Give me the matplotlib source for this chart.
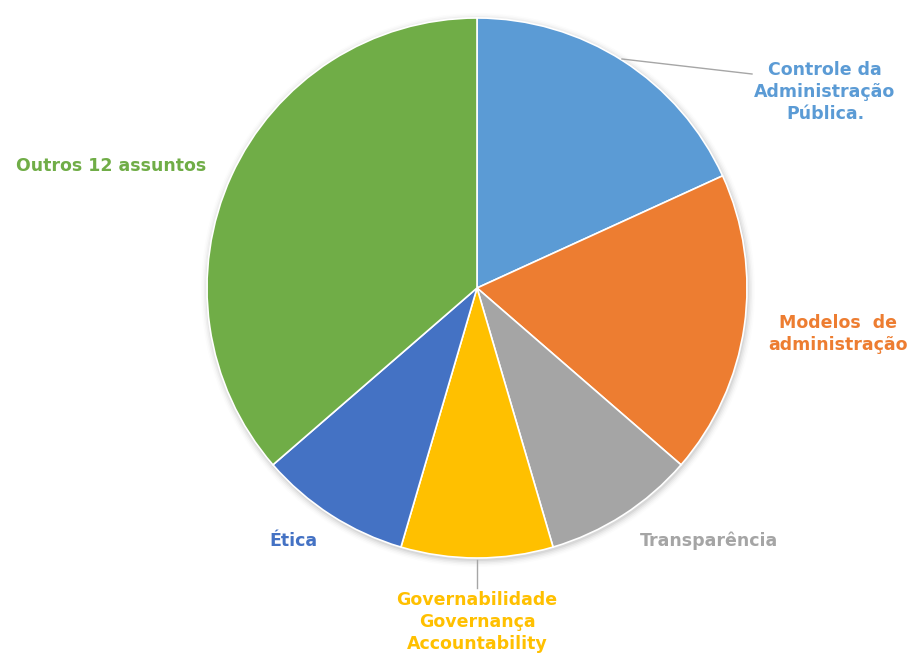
import matplotlib
matplotlib.use("Agg")
import matplotlib.pyplot as plt
from matplotlib.patches import Circle

# Topic counts
categories = [
    "Controle da\nAdministração\nPública.",
    "Modelos  de\nadministração",
    "Transparência",
    "Governabilidade\nGovernança\nAccountability",
    "Ética",
    "Outros 12 assuntos",
]
values = [2, 2, 1, 1, 1, 4]
colors = ["#5B9BD5", "#ED7D31", "#A5A5A5", "#FFC000", "#4472C4", "#70AD47"]

W, H = 912, 655
fig = plt.figure(figsize=(W / 100, H / 100), dpi=100)
ax = fig.add_axes([0, 0, 1, 1])

cx, cy, r = 477, H - 288, 270

# soft drop shadow under the pie
for i, a in enumerate([0.05, 0.04, 0.03, 0.02, 0.01]):
    ax.add_patch(Circle((cx + 1, cy - 2), r + 1 + i * 1.5, color="black",
                        alpha=a, lw=0, zorder=0))

wedges, _ = ax.pie(values, colors=colors, startangle=90, counterclock=False,
                   center=(cx, cy), radius=r, frame=True,
                   wedgeprops=dict(edgecolor="white", linewidth=1.2))
ax.set_xlim(0, W)
ax.set_ylim(0, H)
ax.axis("off")

label_pos = [
    (825, 92),
    (838, 334),
    (709, 541),
    (477, 622),
    (293, 541),
    (111, 166),
]
for text, col, (x, y) in zip(categories, colors, label_pos):
    ax.text(x, H - y, text, color=col, ha="center", va="center",
            fontsize=12.5, fontweight="bold", family="DejaVu Sans",
            linespacing=1.27)

# leader lines
ax.plot([622, 752], [H - 59, H - 74], color="#A6A6A6", lw=1)
ax.plot([477, 477], [H - 560, H - 588], color="#A6A6A6", lw=1)

fig.savefig("out.png", dpi=100)
